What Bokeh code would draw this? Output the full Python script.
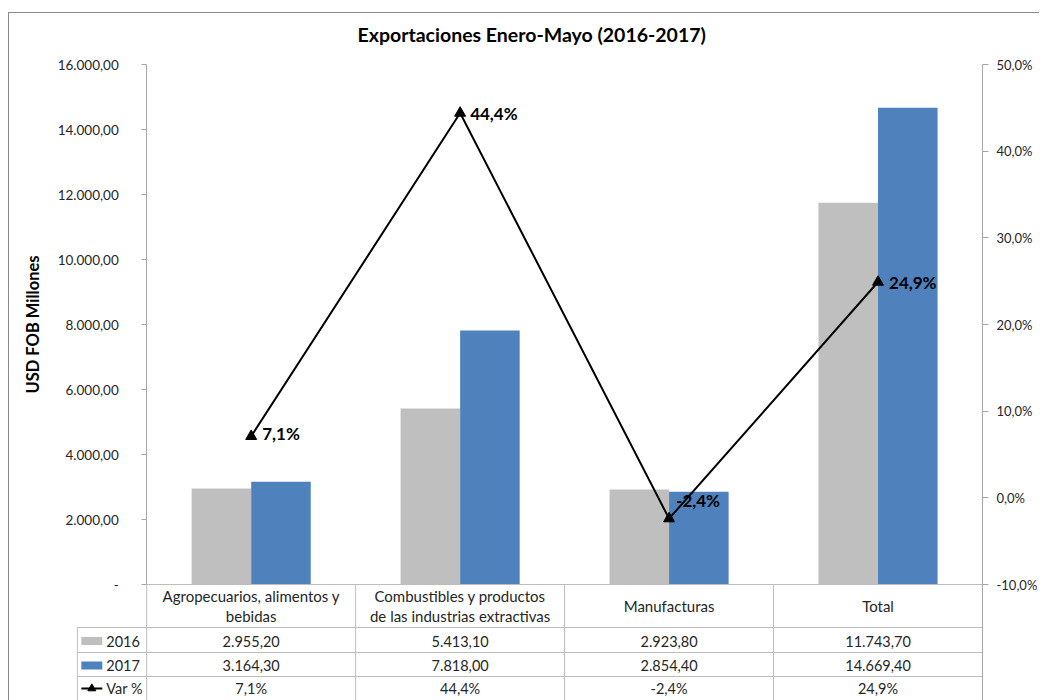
from bokeh.plotting import figure
from bokeh.models import Range1d, LinearAxis, FixedTicker, ColumnDataSource
from bokeh.embed import file_html
from bokeh.resources import INLINE
from bokeh.core.properties import value

# ---------------- data ----------------
chart_title = "Exportaciones Enero-Mayo (2016-2017)"
y_axis_title = "USD FOB Millones"
categories = ["Agropecuarios, alimentos y\nbebidas",
              "Combustibles y productos\nde las industrias extractivas",
              "Manufacturas",
              "Total"]
series_names = ["2016", "2017"]
values_2016 = [2955.20, 5413.10, 2923.80, 11743.70]
values_2017 = [3164.30, 7818.00, 2854.40, 14669.40]
var_name = "Var %"
var_pct = [7.1, 44.4, -2.4, 24.9]
left_ticks = [0, 2000, 4000, 6000, 8000, 10000, 12000, 14000, 16000]
right_ticks = [-10, 0, 10, 20, 30, 40, 50]

# ---------------- styles ----------------
FONT = "Lato"
C2016 = "#BFBFBF"
C2017 = "#4F81BD"
GRID = "#BDBDBD"
AXIS = "#A6A6A6"
TXT = "#262626"
BAR_W = 0.285
LAB_DX = [11, 10, 7, 11]
LAB_DY = [-3, 0, -18, 0]

# layout (page pixels)
W, H = 1031, 688
CANVAS_X0, CANVAS_Y0 = 9, 13
FRAME_L, FRAME_R, FRAME_T, FRAME_B = 9, 984, 52, 701
AXIS_X = 146.5
CHART_T, ZERO_Y = 64, 584
HDR_B, ROW1_B, ROW2_B = 627, 652, 676
TITLE_LEFT = 357

n = len(categories)
CAT_PX = (FRAME_R - AXIS_X) / n
def px2x(px):
    return (px - AXIS_X) / CAT_PX
def tbl(py):
    return FRAME_B - py

chart_px = ZERO_Y - CHART_T
below_px = FRAME_B - ZERO_Y
above_px = CHART_T - FRAME_T
y_top = left_ticks[-1]
y_start = -below_px / chart_px * y_top
y_end = y_top + above_px / chart_px * y_top
p_lo, p_hi = right_ticks[0], right_ticks[-1]
p_start = p_lo - below_px / chart_px * (p_hi - p_lo)
p_end = p_hi + above_px / chart_px * (p_hi - p_lo)

def es_num(v, d):
    s = f"{v:,.{d}f}"
    return s.replace(",", "X").replace(".", ",").replace("X", ".")

p = figure(width=W, height=H, output_backend="svg", toolbar_location=None,
           x_range=Range1d(px2x(FRAME_L), n), y_range=Range1d(y_start, y_end),
           x_axis_location=None, y_axis_location=None,
           min_border_left=FRAME_L - CANVAS_X0, min_border_right=CANVAS_X0 + W - FRAME_R,
           min_border_top=FRAME_T - CANVAS_Y0, min_border_bottom=0,
           title=chart_title,
           styles={"border-left": "1px solid #8A8A8A", "border-top": "1px solid #8A8A8A",
                   "margin-left": "8px", "margin-top": "12px", "margin-bottom": "-14px"})
p.extra_y_ranges = {"pct": Range1d(p_start, p_end), "tbl": Range1d(0, FRAME_B - FRAME_T)}
p.xgrid.visible = False
p.ygrid.visible = False
p.outline_line_color = None
p.background_fill_color = "white"
p.border_fill_color = "white"

p.title.align = "left"
p.title.offset = TITLE_LEFT - FRAME_L
p.title.standoff = 14
p.title.text_font = FONT
p.title.text_font_size = "19.5px"
p.title.text_font_style = "bold"
p.title.text_color = "#000000"

# left axis
yl = LinearAxis(fixed_location=0, bounds=(0, y_top), ticker=FixedTicker(ticks=left_ticks),
                major_label_overrides={t: ("-" if t == 0 else es_num(t, 2)) for t in left_ticks},
                axis_label=y_axis_title)
# right axis
yr = LinearAxis(y_range_name="pct", bounds=(p_start, p_hi), ticker=FixedTicker(ticks=right_ticks),
                major_label_overrides={t: es_num(t, 1) + "%" for t in right_ticks})
for ax, so, fs in ((yl, 23, "13.5px"), (yr, 8, "13px")):
    ax.major_tick_in = 0
    ax.major_tick_out = 6 if ax is yr else 5
    ax.minor_tick_in = 0
    ax.minor_tick_out = 0
    ax.axis_line_color = AXIS
    ax.major_tick_line_color = AXIS
    ax.major_label_standoff = so
    ax.major_label_text_font = FONT
    ax.major_label_text_font_size = fs
    ax.major_label_text_color = TXT
yl.axis_label_text_font = FONT
yl.axis_label_text_font_size = "16.5px"
yl.axis_label_text_font_style = "bold"
yl.axis_label_text_color = "#000000"
yl.axis_label_standoff = 11
p.add_layout(yl, "left")
p.add_layout(yr, "right")

centers = [i + 0.5 for i in range(n)]

# bars
p.vbar(x=[c - BAR_W / 2 for c in centers], top=values_2016, bottom=0, width=BAR_W,
       fill_color=C2016, line_color=None)
p.vbar(x=[c + BAR_W / 2 for c in centers], top=values_2017, bottom=0, width=BAR_W,
       fill_color=C2017, line_color=None)

# var % line
p.line(centers, var_pct, y_range_name="pct", line_color="black", line_width=2)
p.scatter(centers, var_pct, y_range_name="pct", marker="triangle", size=11,
          fill_color="black", line_color="black")
lab_src = ColumnDataSource(dict(x=centers, y=var_pct,
                                t=[es_num(v, 1) + "%" for v in var_pct],
                                dx=LAB_DX, dy=LAB_DY))
p.text(x="x", y="y", text="t", x_offset="dx", y_offset="dy", source=lab_src,
       y_range_name="pct", text_font=value(FONT), text_font_size="17px",
       text_font_style="bold", text_color="black", text_align="left", text_baseline="middle")

# ---------------- data table ----------------
xl = px2x(77)
seg_x0 = [0, xl, xl, xl] + [float(i) for i in range(n)] + [xl]
seg_x1 = [float(n), float(n), float(n), float(n)] + [float(i) for i in range(n)] + [xl]
seg_y0 = [tbl(ZERO_Y), tbl(HDR_B), tbl(ROW1_B), tbl(ROW2_B)] + [tbl(ZERO_Y)] * n + [tbl(HDR_B)]
seg_y1 = [tbl(ZERO_Y), tbl(HDR_B), tbl(ROW1_B), tbl(ROW2_B)] + [0] * n + [0]
p.segment(seg_x0, seg_y0, seg_x1, seg_y1, y_range_name="tbl", line_color=GRID, line_width=1)

# header text
hx, hy, ht = [], [], []
hdr_mid = (ZERO_Y + HDR_B) / 2
for c, cat in zip(centers, categories):
    lines = cat.split("\n")
    k = len(lines)
    for j, ln in enumerate(lines):
        hx.append(c)
        hy.append(tbl(hdr_mid + (j - (k - 1) / 2) * 20))
        ht.append(ln)
p.text(hx, hy, ht, y_range_name="tbl", text_font=value(FONT), text_font_size="15px",
       text_color=TXT, text_align="center", text_baseline="middle")

row_mid = [(HDR_B + ROW1_B) / 2 + 1, (ROW1_B + ROW2_B) / 2 + 1, (ROW2_B + 700) / 2]
rows = [[es_num(v, 2) for v in values_2016],
        [es_num(v, 2) for v in values_2017],
        [es_num(v, 1) + "%" for v in var_pct]]
tx, ty, tt = [], [], []
for r, vals in enumerate(rows):
    for c, s in zip(centers, vals):
        tx.append(c); ty.append(tbl(row_mid[r])); tt.append(s)
p.text(tx, ty, tt, y_range_name="tbl", text_font=value(FONT), text_font_size="14.5px",
       text_color=TXT, text_align="center", text_baseline="middle")

# legend keys in table
p.quad(left=[px2x(81)] * 2, right=[px2x(102)] * 2,
       top=[tbl(row_mid[0] - 4), tbl(row_mid[1] - 4)],
       bottom=[tbl(row_mid[0] + 4), tbl(row_mid[1] + 4)],
       fill_color=[C2016, C2017], line_color=None, y_range_name="tbl")
p.line([px2x(81), px2x(102)], [tbl(row_mid[2])] * 2, y_range_name="tbl",
       line_color="black", line_width=2)
p.scatter([px2x(91.5)], [tbl(row_mid[2])], y_range_name="tbl", marker="triangle",
          size=8, fill_color="black", line_color="black")
p.text([px2x(106)] * 3, [tbl(m) for m in row_mid], series_names + [var_name],
       y_range_name="tbl", text_font=value(FONT), text_font_size="14.5px",
       text_color=TXT, text_align="left", text_baseline="middle")

open("out.html", "w").write(file_html(p, INLINE))
